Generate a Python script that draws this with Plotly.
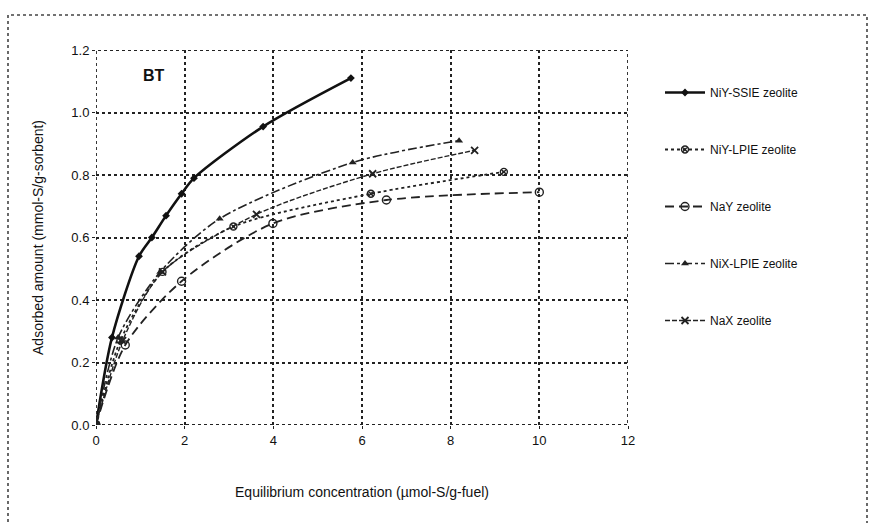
import plotly.graph_objects as go

# ---- data ----
ssie_x = [0, 0.36, 0.97, 1.26, 1.58, 1.93, 2.21, 3.77, 5.75]
ssie_y = [0, 0.28, 0.54, 0.60, 0.67, 0.74, 0.79, 0.955, 1.11]

niy_lpie_x = [0, 0.55, 1.5, 3.1, 6.2, 9.2]
niy_lpie_y = [0, 0.27, 0.49, 0.635, 0.74, 0.81]

nay_x = [0, 0.66, 1.93, 3.99, 6.55, 10.0]
nay_y = [0, 0.256, 0.46, 0.645, 0.72, 0.745]

nix_lpie_x = [0, 0.5, 1.45, 2.79, 5.79, 8.19]
nix_lpie_y = [0, 0.28, 0.49, 0.66, 0.84, 0.91]

nax_x = [0, 0.6, 1.5, 3.62, 6.24, 8.54]
nax_y = [0, 0.27, 0.49, 0.674, 0.804, 0.879]

series_names = ["NiY-SSIE zeolite", "NiY-LPIE zeolite", "NaY zeolite",
                "NiX-LPIE zeolite", "NaX zeolite"]

x_ticks = [0, 2, 4, 6, 8, 10, 12]
y_ticks = [0.0, 0.2, 0.4, 0.6, 0.8, 1.0, 1.2]

W, H = 872, 523
L, R, T, B = 96, 244, 50, 98
pw, ph = W - L - R, H - T - B

def px(xp):
    return (xp - L) / pw

def py(yp):
    return (H - B - yp) / ph

fig = go.Figure()

styles = [
    (ssie_x, ssie_y, dict(color="#111", width=2.6, dash="solid"), dict(symbol="diamond", size=6, color="#111")),
    (niy_lpie_x, niy_lpie_y, dict(color="#222", width=1.8, dash="dot"), dict(symbol="circle-x-open", size=7, color="#222", line=dict(width=1.4, color="#222"))),
    (nay_x, nay_y, dict(color="#222", width=1.8, dash="9px,5px"), dict(symbol="circle-open", size=8, color="#222", line=dict(width=1.4, color="#222"))),
    (nix_lpie_x, nix_lpie_y, dict(color="#222", width=1.6, dash="dashdot"), dict(symbol="triangle-up", size=7, color="#222")),
    (nax_x, nax_y, dict(color="#222", width=1.4, dash="5px,2px"), dict(symbol="x-thin-open", size=7, color="#222", line=dict(width=1.8, color="#222"))),
]

for i, (xs, ys, ln, mk) in enumerate(styles):
    fig.add_trace(go.Scatter(
        x=xs, y=ys, name=series_names[i], mode="lines+markers",
        line=dict(shape="spline", smoothing=0.8, **ln), marker=mk,
        legendgroup=f"g{i}",
    ))

# plot-area dotted border
fig.add_shape(type="rect", xref="x", yref="y", x0=0, x1=12, y0=0, y1=1.2,
              line=dict(color="#222", width=1.8, dash="dot"), layer="above")
# outer dotted frame
fig.add_shape(type="rect", xref="paper", yref="paper",
              x0=px(8), x1=px(867), y0=py(535), y1=py(15),
              line=dict(color="#444", width=1.6, dash="dot"))

fig.add_annotation(x=1.3, y=1.12, xref="x", yref="y", text="<b>BT</b>",
                   showarrow=False, font=dict(size=16, color="#111"), xanchor="center")

fig.update_xaxes(range=[0, 12], tickvals=x_ticks, ticktext=[str(v) for v in x_ticks],
                 showgrid=True, gridcolor="#222", griddash="dot", gridwidth=1.5,
                 zeroline=False, showline=False, ticks="outside", ticklen=3, tickcolor="#222",
                 automargin=False,
                 tickfont=dict(family="Liberation Sans, Arial", size=13, color="#111"),
                 title=dict(text="Equilibrium concentration (µmol-S/g-fuel)",
                            font=dict(family="Liberation Sans, Arial", size=14, color="#111"),
                            standoff=40))
fig.update_yaxes(range=[0, 1.2], tickvals=y_ticks, ticktext=[f"{v:.1f}" for v in y_ticks],
                 showgrid=True, gridcolor="#222", griddash="dot", gridwidth=1.5,
                 zeroline=False, showline=False, ticks="outside", ticklen=3, tickcolor="#222",
                 automargin=False,
                 tickfont=dict(family="Liberation Sans, Arial", size=13, color="#111"),
                 title=dict(text="Adsorbed amount (mmol-S/g-sorbent)",
                            font=dict(family="Liberation Sans, Arial", size=14, color="#111"),
                            standoff=24))

fig.update_layout(
    width=W, height=H, margin=dict(l=L, r=R, t=T, b=B),
    paper_bgcolor="white", plot_bgcolor="white",
    font=dict(family="Liberation Sans, Arial", color="#111"),
    legend=dict(x=px(660), y=py(78), xanchor="left", yanchor="top",
                traceorder="grouped", tracegroupgap=38,
                font=dict(family="Liberation Sans Narrow, Liberation Sans, Arial", size=12, color="#111"),
                bgcolor="rgba(0,0,0,0)", itemwidth=40),
    showlegend=True,
)

fig.write_html("out.html", config={"displayModeBar": False},
               post_script="document.body.style.margin='0';document.body.style.padding='0';")
